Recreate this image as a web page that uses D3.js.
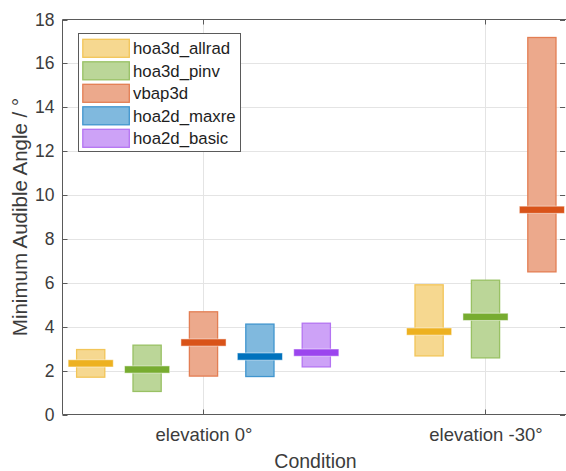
<!DOCTYPE html>
<html><head><meta charset="utf-8">
<script src="https://cdn.jsdelivr.net/npm/d3@7"></script>
<style>html,body{margin:0;padding:0;background:#fff;} svg{display:block;font-family:"Liberation Sans",Arial,Helvetica,sans-serif;}</style>
</head><body><svg id="c" width="566" height="471"></svg>
<script>
const categories = ["elevation 0°", "elevation -30°"];
const seriesNames = ["hoa3d_allrad", "hoa3d_pinv", "vbap3d", "hoa2d_maxre", "hoa2d_basic"];
const seriesColors = ["#EDB120", "#77AC30", "#D95319", "#0072BD", "#9B45EE"];
const medianValues = [[2.33, 3.78], [2.05, 4.45], [3.28, 9.33], [2.64, null], [2.82, null]];
const lowerValues  = [[1.70, 2.67], [1.05, 2.58], [1.75, 6.50], [1.73, null], [2.17, null]];
const upperValues  = [[2.96, 5.91], [3.16, 6.12], [4.68, 17.18], [4.12, null], [4.16, null]];
const yTicks = [0, 2, 4, 6, 8, 10, 12, 14, 16, 18];
const yLabel = "Minimum Audible Angle / °";
const xLabel = "Condition";

const svg = d3.select("#c");
const L = 62.5, T = 19.5, B = 414.5, R = 566.5;
const x = d3.scaleLinear().domain([0.5, 2.29]).range([L, L + 1.79 * 282]);
const y = d3.scaleLinear().domain([0, 18]).range([B, T]);
const axisCol = "#5a5a5a", textCol = "#3c3c3c", gridCol = "#e4e4e4";

// grid
const g = svg.append("g");
g.selectAll("line.hg").data(yTicks.slice(1, -1)).join("line")
  .attr("x1", L).attr("x2", R).attr("y1", d => Math.round(y(d)) + 0.5).attr("y2", d => Math.round(y(d)) + 0.5)
  .attr("stroke", gridCol).attr("stroke-width", 1);
g.selectAll("line.vg").data(categories).join("line")
  .attr("x1", (d, i) => Math.round(x(i + 1)) + 0.5).attr("x2", (d, i) => Math.round(x(i + 1)) + 0.5)
  .attr("y1", T).attr("y2", B).attr("stroke", gridCol).attr("stroke-width", 1);

// bars
const step = 0.2, boxW = 0.1, medW = 0.16;
const marks = svg.append("g");
categories.forEach((c, ci) => {
  const present = seriesNames.map((s, si) => si).filter(si => medianValues[si][ci] != null);
  present.forEach((si, k) => {
    const cx = ci + 1 + (k - (present.length - 1) / 2) * step;
    const col = d3.color(seriesColors[si]);
    const fill = d3.interpolateRgb("#ffffff", seriesColors[si])(0.5);
    const stroke = d3.interpolateRgb("#ffffff", seriesColors[si])(0.75);
    marks.append("rect")
      .attr("x", x(cx - boxW / 2)).attr("width", x(cx + boxW / 2) - x(cx - boxW / 2))
      .attr("y", y(upperValues[si][ci])).attr("height", y(lowerValues[si][ci]) - y(upperValues[si][ci]))
      .attr("fill", fill).attr("stroke", stroke).attr("stroke-width", 1.3);
    marks.append("rect")
      .attr("x", x(cx - medW / 2)).attr("width", x(cx + medW / 2) - x(cx - medW / 2))
      .attr("y", y(medianValues[si][ci]) - 3.6).attr("height", 7.2)
      .attr("fill", col.formatHex()).attr("stroke", "#ffffff").attr("stroke-opacity", 0.5).attr("stroke-width", 1);
  });
});

// axes box
const ax = svg.append("g").attr("stroke", axisCol).attr("stroke-width", 1).attr("fill", "none");
ax.append("path").attr("d", `M${L},${T}H${R}M${L},${T}V${B}H${R}`);
yTicks.forEach(t => {
  const yy = Math.round(y(t)) + 0.5;
  ax.append("line").attr("x1", L).attr("x2", L + 5).attr("y1", yy).attr("y2", yy);
  ax.append("line").attr("x1", 565).attr("x2", 560).attr("y1", yy).attr("y2", yy);
});
categories.forEach((c, i) => {
  const xx = Math.round(x(i + 1)) + 0.5;
  ax.append("line").attr("x1", xx).attr("x2", xx).attr("y1", B).attr("y2", B - 5);
  ax.append("line").attr("x1", xx).attr("x2", xx).attr("y1", T).attr("y2", T + 5);
});

// tick labels
const yAxis = d3.axisLeft(y).tickValues(yTicks).tickSize(0).tickPadding(8);
const ya = svg.append("g").attr("transform", `translate(${L},0)`).call(yAxis);
ya.select(".domain").remove();
ya.selectAll("text").attr("fill", textCol).style("font-size", "17.5px").style("font-family", "Liberation Sans, Arial, sans-serif");

const xb = d3.scaleOrdinal().domain(categories).range(categories.map((c, i) => x(i + 1)));
const xAxis = d3.axisBottom(xb).tickSize(0).tickPadding(13);
const xa = svg.append("g").attr("transform", `translate(0,${B})`).call(xAxis);
xa.select(".domain").remove();
xa.selectAll("text").attr("fill", textCol).style("font-size", "18.5px").style("font-family", "Liberation Sans, Arial, sans-serif");

// axis titles
svg.append("text").attr("x", (L + R) / 2 + 1).attr("y", 467.5).attr("text-anchor", "middle")
  .attr("fill", textCol).style("font-size", "19.5px").text(xLabel);
svg.append("text").attr("transform", `translate(27,${(T + B) / 2}) rotate(-90)`).attr("text-anchor", "middle")
  .attr("fill", textCol).style("font-size", "20.5px").text(yLabel);

// legend
const lg = svg.append("g");
lg.append("rect").attr("x", 78.5).attr("y", 33.5).attr("width", 162).attr("height", 118)
  .attr("fill", "#fff").attr("stroke", axisCol).attr("stroke-width", 1);
seriesNames.forEach((s, i) => {
  const cy = 48.3 + i * 22.5;
  lg.append("rect").attr("x", 82.8).attr("y", cy - 9).attr("width", 46.5).attr("height", 18)
    .attr("fill", d3.interpolateRgb("#ffffff", seriesColors[i])(0.5))
    .attr("stroke", d3.interpolateRgb("#ffffff", seriesColors[i])(0.75)).attr("stroke-width", 1.3);
  lg.append("text").attr("x", 133).attr("y", cy + 6).attr("fill", "#1e1e1e")
    .style("font-size", "16.8px").text(s);
});
</script></body></html>
